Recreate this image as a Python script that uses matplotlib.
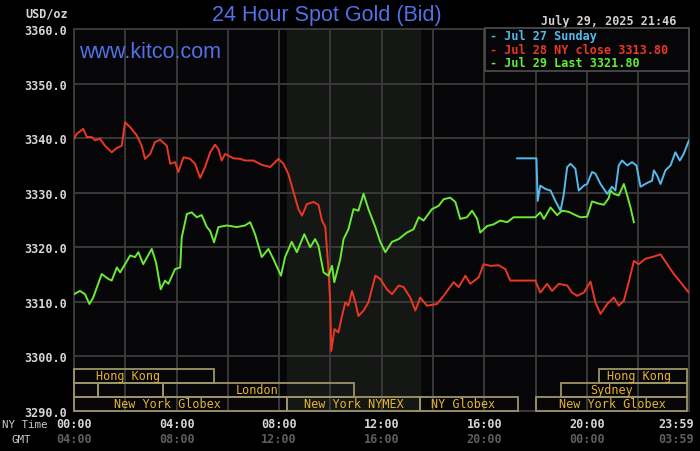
import matplotlib
matplotlib.use('Agg')
import matplotlib.pyplot as plt
from matplotlib.patches import Rectangle
import matplotlib.transforms as mtransforms

# ---------------- data ----------------
red_t = [0.00,0.11,0.36,0.50,0.69,0.82,1.01,1.21,1.47,1.67,1.86,1.99,2.19,2.45,2.64,2.77,2.97,3.16,3.36,3.62,
         3.75,3.94,4.07,4.27,4.53,4.72,4.92,5.11,5.31,5.50,5.63,5.76,5.89,6.22,6.48,6.67,7.00,7.32,7.65,7.97,
         8.17,8.36,8.56,8.75,8.89,9.08,9.34,9.53,9.67,9.80,9.92,9.99,10.03,10.16,10.31,10.45,10.58,10.70,10.84,10.97,
         11.09,11.29,11.48,11.75,11.94,12.20,12.40,12.66,12.85,13.11,13.31,13.50,13.76,14.15,14.41,14.80,15.00,15.26,15.45,15.78,
         15.97,16.23,16.56,16.82,17.01,17.99,18.18,18.45,18.64,18.90,19.23,19.42,19.62,19.88,20.14,20.33,20.53,20.79,21.05,21.24,
         21.44,21.63,21.83,22.02,22.28,22.61,22.87,23.13,23.39,23.65,23.97]
red_v = [3339.9,3340.8,3341.7,3340.2,3340.2,3339.6,3339.9,3338.6,3337.4,3338.2,3338.6,3342.9,3342.0,3340.5,3338.6,3336.2,3337.1,3339.3,3339.7,3338.6,
         3335.3,3335.6,3333.8,3336.5,3336.2,3335.3,3332.7,3334.7,3337.4,3338.8,3338.0,3335.9,3337.1,3336.3,3336.2,3335.9,3335.9,3335.1,3334.7,3336.2,
         3335.3,3333.4,3330.1,3327.0,3325.8,3327.9,3328.3,3327.8,3324.9,3323.7,3316.0,3309.9,3301.0,3305.0,3304.4,3307.4,3309.9,3309.3,3312.0,3309.9,
         3307.4,3308.4,3309.9,3314.8,3314.2,3312.3,3311.4,3313.0,3312.7,3310.8,3308.4,3310.8,3309.3,3309.6,3311.1,3313.6,3312.7,3314.8,3313.3,3314.5,
         3316.9,3316.6,3316.7,3316.0,3313.9,3313.9,3311.7,3313.3,3312.0,3313.3,3313.0,3311.7,3311.1,3311.7,3313.7,3309.9,3307.8,3309.6,3310.8,3309.3,
         3310.2,3313.6,3317.5,3316.9,3317.9,3318.3,3318.7,3316.9,3315.1,3313.6,3311.7]

green_t = [0.00,0.23,0.43,0.60,0.75,1.08,1.34,1.47,1.67,1.80,1.99,2.19,2.38,2.51,2.70,3.03,3.20,3.38,3.55,3.68,
           3.94,4.14,4.20,4.40,4.59,4.79,4.98,5.18,5.31,5.46,5.63,5.96,6.35,6.67,6.87,7.06,7.32,7.58,7.78,8.07,
           8.23,8.49,8.69,8.98,9.21,9.40,9.53,9.73,9.92,10.06,10.15,10.38,10.51,10.70,10.90,11.09,11.29,11.48,11.75,11.94,
           12.14,12.40,12.66,12.98,13.24,13.44,13.63,13.96,14.22,14.41,14.67,14.87,15.06,15.32,15.52,15.72,15.84,16.11,16.36,16.62,
           16.89,17.14,17.99,18.18,18.32,18.58,18.84,19.03,19.29,19.55,19.75,20.01,20.20,20.46,20.66,20.85,20.92,21.05,21.24,21.44,
           21.57,21.70,21.83]
green_v = [3311.4,3312.0,3311.4,3309.6,3310.8,3315.1,3314.2,3313.9,3316.3,3315.4,3316.9,3318.5,3318.2,3319.1,3316.9,3319.7,3317.2,3312.3,3313.9,3313.3,
           3316.0,3316.3,3321.8,3326.1,3326.4,3325.5,3325.9,3323.7,3323.0,3320.9,3323.7,3324.0,3323.7,3324.0,3324.6,3322.4,3318.2,3319.7,3317.8,3314.8,
           3318.2,3321.0,3319.1,3322.4,3320.0,3321.5,3320.3,3315.4,3314.8,3316.6,3313.6,3317.8,3321.5,3323.3,3327.0,3326.7,3329.8,3327.0,3323.7,3321.0,
           3319.1,3321.0,3321.5,3322.7,3323.3,3325.5,3324.9,3327.0,3327.6,3328.8,3329.1,3328.3,3325.2,3325.5,3326.7,3325.2,3322.7,3323.9,3324.2,3324.9,
           3324.6,3325.5,3325.5,3326.4,3325.2,3327.3,3325.9,3326.7,3326.5,3325.9,3325.5,3325.6,3328.4,3328.0,3327.8,3329.0,3330.4,3329.8,3329.5,3331.6,
           3329.5,3327.3,3324.6]

blue_t = [17.28,18.03,18.08,18.18,18.38,18.58,18.77,18.97,19.09,19.23,19.36,19.55,19.68,19.88,20.01,20.20,20.33,20.53,20.79,20.98,
          21.11,21.24,21.37,21.57,21.76,21.93,22.09,22.35,22.54,22.61,22.74,22.87,23.06,23.26,23.45,23.62,23.77,23.98]
blue_v = [3336.3,3336.3,3328.5,3331.3,3330.7,3330.4,3328.5,3326.7,3329.5,3334.7,3335.3,3334.4,3330.4,3331.3,3331.6,3333.8,3333.5,3331.6,3329.8,3331.1,
          3330.4,3335.0,3335.9,3335.0,3335.6,3335.0,3331.1,3331.8,3332.2,3334.1,3333.1,3331.6,3334.1,3335.0,3337.4,3335.9,3337.1,3339.6]

legend_labels = ['Jul 27 Sunday', 'Jul 28 NY close 3313.80', 'Jul 29 Last 3321.80']
y_ticks = [3290, 3300, 3310, 3320, 3330, 3340, 3350, 3360]
ny_tick_hours = [0, 4, 8, 12, 16, 20, 23.98]
ny_tick_labels = ['00:00', '04:00', '08:00', '12:00', '16:00', '20:00', '23:59']
gmt_tick_labels = ['04:00', '08:00', '12:00', '16:00', '20:00', '00:00', '03:59']

sess_label = ['Hong Kong', '', '', 'London', 'New York Globex', 'New York NYMEX', 'NY Globex',
              'New York Globex', 'Sydney', 'Hong Kong']
sess_start = [0.0, 0.0, 0.95, 3.46, 0.0, 8.3, 13.5, 18.03, 18.97, 20.49]
sess_end = [5.46, 0.95, 3.46, 10.93, 8.3, 13.5, 17.33, 23.92, 23.92, 23.92]
sess_row = [0, 1, 1, 1, 2, 2, 2, 2, 1, 0]
sess_label_hour = [2.1, None, None, 7.14, 3.63, 10.9, 15.18, 20.98, 20.96, 22.05]

nymex_open, nymex_close = 8.3, 13.5

# ---------------- style ----------------
RED = '#eb3723'
GREEN = '#69eb37'
BLUE = '#55b9eb'
TITLE_BLUE = '#5270e8'
GRID = '#3c3c3c'
MONO = 'DejaVu Sans Mono'
SANS = 'Liberation Sans'

W, H = 700, 452
fig = plt.figure(figsize=(W / 100, H / 100), dpi=100, facecolor='black')
ax = fig.add_axes([74 / W, 40 / H, 615 / W, 382 / H])
ax.set_facecolor('#060608')
ax.set_xlim(0, 23.98)
ax.set_ylim(3290, 3360)

ax.axvspan(nymex_open, nymex_close, color='#141714', zorder=0)
ax.set_xticks(range(0, 24, 2))
ax.set_xticklabels([])
ax.set_yticks(y_ticks)
ax.set_yticklabels([f'{v:.1f}' for v in y_ticks], fontfamily=MONO, fontsize=8.5,
                   fontweight='bold', color='#d6d6d6')
ax.tick_params(length=0, pad=5)
ax.grid(color=GRID, lw=1.3)
ax.set_axisbelow(True)
for s in ax.spines.values():
    s.set_color(GRID)
    s.set_linewidth(1.3)

ax.plot(red_t, red_v, color=RED, lw=1.4, zorder=3)
ax.plot(green_t, green_v, color=GREEN, lw=1.4, zorder=3)
ax.plot(blue_t, blue_v, color=BLUE, lw=1.4, zorder=3)

# session boxes
row_h = 70 * 14 / 382
for lab, s0, s1, r, lh in zip(sess_label, sess_start, sess_end, sess_row, sess_label_hour):
    y0 = 3290 + (2 - r) * row_h
    ax.add_patch(Rectangle((s0, y0), s1 - s0, row_h, facecolor='none',
                           edgecolor='#9c946a', lw=1.3, zorder=4, clip_on=False))
    if lab:
        ax.text(lh, y0 + row_h / 2, lab, ha='center', va='center', fontfamily=MONO,
                fontsize=8.5, color='#e6b432', zorder=5)

# time labels
tr = mtransforms.blended_transform_factory(ax.transData, fig.transFigure)
for h, ny, gm in zip(ny_tick_hours, ny_tick_labels, gmt_tick_labels):
    if h > 23:
        fig.text(694 / W, 1 - 425 / H, ny, ha='right', va='center', fontfamily=MONO,
                 fontsize=8.5, fontweight='bold', color='#d6d6d6')
        fig.text(694 / W, 1 - 440 / H, gm, ha='right', va='center', fontfamily=MONO,
                 fontsize=8.5, fontweight='bold', color='#5e5e5e')
    else:
        ax.text(h, 1 - 425 / H, ny, transform=tr, ha='center', va='center', fontfamily=MONO,
                fontsize=8.5, fontweight='bold', color='#d6d6d6')
        ax.text(h, 1 - 440 / H, gm, transform=tr, ha='center', va='center', fontfamily=MONO,
                fontsize=8.5, fontweight='bold', color='#5e5e5e')
fig.text(2 / W, 1 - 425 / H, 'NY Time', ha='left', va='center', fontfamily=MONO,
         fontsize=7.8, color='#c8c8c8')
fig.text(21 / W, 1 - 440 / H, 'GMT', ha='center', va='center', fontfamily=MONO,
         fontsize=7.8, color='#c8c8c8')

# header texts
fig.text(68 / W, 1 - 14 / H, 'USD/oz', ha='right', va='center', fontfamily=MONO,
         fontsize=8.5, fontweight='bold', color='#d6d6d6')
fig.text(327 / W, 1 - 16 / H, '24 Hour Spot Gold (Bid)', ha='center', va='center',
         fontfamily=SANS, fontsize=15.5, color=TITLE_BLUE)
fig.text(150 / W, 1 - 53 / H, 'www.kitco.com', ha='center', va='center',
         fontfamily=SANS, fontsize=15.5, color=TITLE_BLUE)
fig.text(676 / W, 1 - 21.5 / H, 'July 29, 2025 21:46', ha='right', va='center',
         fontfamily=MONO, fontsize=8.5, fontweight='bold', color='#d0d0d0')

# legend box
fig.add_artist(Rectangle((485 / W, 1 - 72 / H), 204 / W, 43 / H, transform=fig.transFigure,
                         facecolor='#060608', edgecolor='#4a4a4a', lw=1.3, zorder=6))
for i, (lab, col) in enumerate(zip(legend_labels, [BLUE, RED, GREEN])):
    fig.text(490 / W, 1 - (36.7 + 13.6 * i) / H, '- ' + lab, ha='left', va='center',
             fontfamily=MONO, fontsize=8.5, fontweight='bold', color=col, zorder=7)

fig.savefig('out.png', dpi=100, facecolor='black')
